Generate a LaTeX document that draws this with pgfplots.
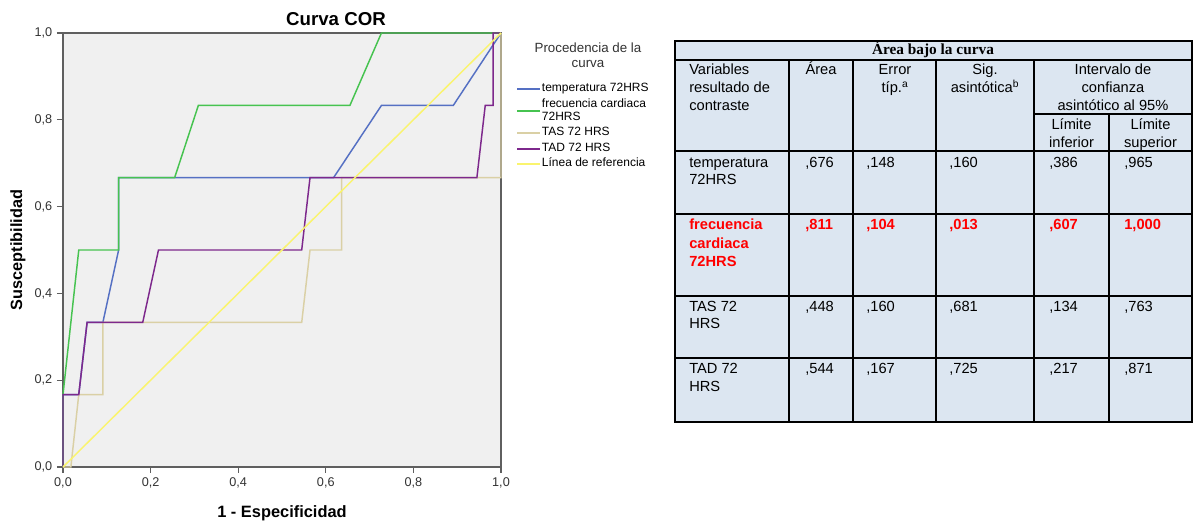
\documentclass[border=0pt]{standalone}
\usepackage{pgfplots}
\pgfplotsset{compat=1.18}
\usepackage{fontspec}
\setmainfont{Liberation Sans}
\newfontfamily\timesfont{Liberation Serif}
\definecolor{cblue}{RGB}{85,112,195}
\definecolor{cgreen}{RGB}{70,195,80}
\definecolor{ctan}{RGB}{218,208,165}
\definecolor{cpurple}{RGB}{125,40,140}
\definecolor{cyellow}{RGB}{250,244,110}
\definecolor{bgc}{RGB}{240,240,240}
\definecolor{axc}{RGB}{95,95,95}
\definecolor{tickc}{RGB}{50,50,50}
\definecolor{tblc}{RGB}{220,230,241}
\definecolor{cred}{RGB}{255,0,0}
\newcommand\tfont{\fontsize{11}{13}\selectfont}
\begin{document}
\begin{tikzpicture}
\path[use as bounding box] (0,0) rectangle (897.75pt,-397.5pt);
\begin{axis}[
  at={(47.25pt,-350.25pt)}, anchor=south west,
  scale only axis, width=328.5pt, height=325.5pt,
  xmin=0, xmax=1, ymin=0, ymax=1,
  axis background/.style={fill=bgc},
  axis line style={draw=axc, line width=1.2pt},
  xtick pos=left, ytick pos=left,
  tick align=outside, major tick length=4.5pt,
  tick style={draw=axc, line width=1pt},
  xtick={0,0.2,0.4,0.6,0.8,1}, ytick={0,0.2,0.4,0.6,0.8,1},
  /pgf/number format/use comma,
  /pgf/number format/fixed,
  /pgf/number format/fixed zerofill,
  /pgf/number format/precision=1,
  /pgf/number format/assume math mode=true,
  ticklabel style={font=\fontsize{9.5}{11}\selectfont, text=tickc},
  clip=false,
  legend style={at={(1.034,0.889)}, anchor=north west, draw=none, fill=none,
    inner sep=0pt, font=\fontsize{9}{9.75}\selectfont,
    nodes={inner sep=0.95pt, text depth=, text height=}},
  legend cell align=left,
  legend image code/.code={\draw[#1, line width=1.4pt] (0pt,0pt) -- (17pt,0pt);},
]
\addplot[cblue, line width=1.1pt] coordinates {(0,0) (0,0.167) (0.036,0.167) (0.055,0.333) (0.091,0.333) (0.127,0.5) (0.127,0.667) (0.618,0.667) (0.727,0.833) (0.891,0.833) (1,1)};
\addlegendentry{\strut temperatura 72HRS}
\addplot[cgreen, line width=1.1pt] coordinates {(0,0) (0,0.167) (0.036,0.5) (0.127,0.5) (0.127,0.667) (0.255,0.667) (0.309,0.833) (0.655,0.833) (0.727,1) (1,1)};
\addlegendentry{\begin{tabular}{@{}l@{}}frecuencia cardiaca\\72HRS\end{tabular}}
\addplot[ctan, line width=1.1pt] coordinates {(0,0) (0.018,0) (0.036,0.167) (0.091,0.167) (0.091,0.333) (0.545,0.333) (0.564,0.5) (0.636,0.5) (0.636,0.667) (1,0.667) (1,1)};
\addlegendentry{\strut TAS 72 HRS}
\addplot[cpurple, line width=1.1pt] coordinates {(0,0) (0,0.167) (0.036,0.167) (0.055,0.333) (0.182,0.333) (0.218,0.5) (0.545,0.5) (0.564,0.667) (0.945,0.667) (0.964,0.833) (0.982,0.833) (0.982,1) (1,1)};
\addlegendentry{\strut TAD 72 HRS}
\addplot[cyellow, line width=1.1pt] coordinates {(0,0) (1,1)};
\addlegendentry{\strut Línea de referencia}
\end{axis}
\begin{scope}[x=0.75pt,y=-0.75pt]
% chart texts
\node[font=\bfseries\fontsize{14}{16}\selectfont] at (336,19) {Curva COR};
\node[rotate=90, font=\bfseries\fontsize{12.2}{14}\selectfont] at (18,250) {Susceptibilidad};
\node[font=\bfseries\fontsize{12.3}{14}\selectfont] at (282,513) {1 - Especificidad};
\node[font=\fontsize{10}{12}\selectfont, text=tickc] at (588,48) {Procedencia de la};
\node[font=\fontsize{10}{12}\selectfont, text=tickc] at (588,64) {curva};
% table
\fill[tblc] (675,41) rectangle (1192,422);
\begin{scope}[line width=1.2pt]
\draw (675,60) -- (1192,60);
\draw (675,151) -- (1192,151);
\draw (675,214) -- (1192,214);
\draw (675,296) -- (1192,296);
\draw (675,358) -- (1192,358);
\draw (1034,114) -- (1192,114);
\draw (789,60) -- (789,422);
\draw (853,60) -- (853,422);
\draw (936,60) -- (936,422);
\draw (1034,60) -- (1034,422);
\draw (1109,114) -- (1109,422);
\end{scope}
\draw[line width=1.6pt] (675,41) rectangle (1192,422);
\node[anchor=base, inner sep=0, font=\timesfont\bfseries\fontsize{11.5}{13}\selectfont] at (933,55) {Área bajo la curva};
\begin{scope}[every node/.style={inner sep=0, font=\tfont}]
\node[anchor=base west] at (689,75) {Variables};
\node[anchor=base west] at (689,93) {resultado de};
\node[anchor=base west] at (689,111) {contraste};
\node[anchor=base] at (821,75) {Área};
\node[anchor=base] at (895,75) {Error};
\node[anchor=base] at (895,93) {típ.\textsuperscript{a}};
\node[anchor=base] at (985,75) {Sig.};
\node[anchor=base] at (985,93) {asintótica\textsuperscript{b}};
\node[anchor=base] at (1113,75) {Intervalo de};
\node[anchor=base] at (1113,93) {confianza};
\node[anchor=base] at (1113,111) {asintótico al 95\%};
\node[anchor=base] at (1071.5,130) {Límite};
\node[anchor=base] at (1071.5,147.5) {inferior};
\node[anchor=base] at (1150.5,130) {Límite};
\node[anchor=base] at (1150.5,147.5) {superior};
% temperatura
\node[anchor=base west] at (689,168) {temperatura};
\node[anchor=base west] at (689,185) {72HRS};
\node[anchor=base west] at (805,168) {,676};
\node[anchor=base west] at (866,168) {,148};
\node[anchor=base west] at (949,168) {,160};
\node[anchor=base west] at (1049,168) {,386};
\node[anchor=base west] at (1124,168) {,965};
% TAS
\node[anchor=base west] at (689,312) {TAS 72};
\node[anchor=base west] at (689,329) {HRS};
\node[anchor=base west] at (805,312) {,448};
\node[anchor=base west] at (866,312) {,160};
\node[anchor=base west] at (949,312) {,681};
\node[anchor=base west] at (1049,312) {,134};
\node[anchor=base west] at (1124,312) {,763};
% TAD
\node[anchor=base west] at (689,374) {TAD 72};
\node[anchor=base west] at (689,392) {HRS};
\node[anchor=base west] at (805,374) {,544};
\node[anchor=base west] at (866,374) {,167};
\node[anchor=base west] at (949,374) {,725};
\node[anchor=base west] at (1049,374) {,217};
\node[anchor=base west] at (1124,374) {,871};
\end{scope}
\begin{scope}[every node/.style={inner sep=0, font=\tfont\bfseries, text=cred}]
\node[anchor=base west] at (689,230) {frecuencia};
\node[anchor=base west] at (689,248.5) {cardiaca};
\node[anchor=base west] at (689,266.5) {72HRS};
\node[anchor=base west] at (805,230) {,811};
\node[anchor=base west] at (866,230) {,104};
\node[anchor=base west] at (949,230) {,013};
\node[anchor=base west] at (1049,230) {,607};
\node[anchor=base west] at (1124,230) {1,000};
\end{scope}
\end{scope}
\end{tikzpicture}
\end{document}
